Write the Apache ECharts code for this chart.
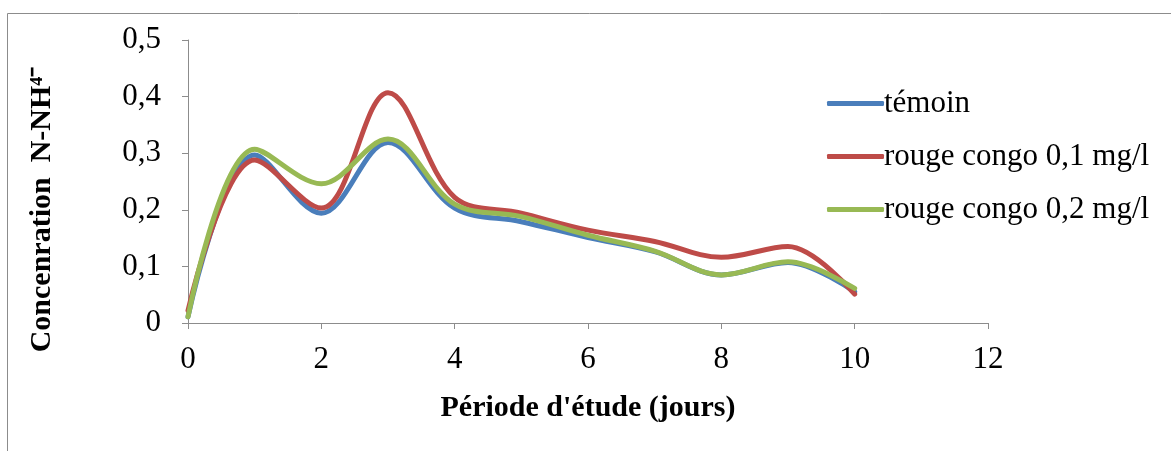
<!DOCTYPE html>
<html>
<head>
<meta charset="utf-8">
<script src="https://cdn.jsdelivr.net/npm/echarts@6/dist/echarts.min.js"></script>
<style>
  html, body { margin: 0; padding: 0; background: #fff; }
  #main { width: 1171px; height: 451px; }
</style>
</head>
<body>
<div id="main"></div>
<script>
// jours d'étude
var days = [0, 1, 2, 3, 4, 5, 6, 7, 8, 9, 10];
var temoin = [0.011, 0.297, 0.194, 0.319, 0.203, 0.179, 0.151, 0.126, 0.085, 0.107, 0.055];
var rouge01 = [0.022, 0.288, 0.203, 0.407, 0.222, 0.194, 0.164, 0.144, 0.116, 0.135, 0.051];
var rouge02 = [0.011, 0.307, 0.246, 0.325, 0.21, 0.188, 0.155, 0.127, 0.085, 0.108, 0.061];
var seriesNames = ['témoin', 'rouge congo 0,1 mg/l', 'rouge congo 0,2 mg/l'];
var colors = ['#4A7EBB', '#BE4B48', '#98B954'];

var font = '"Liberation Serif", "Times New Roman", serif';

function pairs(vals) {
  return days.map(function (d, i) { return [d, vals[i]]; });
}

var myChart = echarts.init(document.getElementById('main'));

var option = {
  animation: false,
  color: colors,
  graphic: [{
    type: 'polyline',
    shape: { points: [[7.5, 451], [7.5, 13.5], [1171, 13.5]] },
    style: { stroke: '#8c8c8c', lineWidth: 1, fill: null }
  }],
  legend: {
    orient: 'vertical',
    left: 822,
    top: 83,
    itemWidth: 57,
    itemHeight: 5,
    itemGap: 22,
    icon: 'roundRect',
    textStyle: { fontFamily: font, fontSize: 31, color: '#000', padding: [0, 0, 0, -5] },
    data: seriesNames
  },
  grid: { left: 188, right: 183, top: 40, bottom: 128 },
  xAxis: {
    type: 'value',
    min: 0, max: 12, interval: 2,
    name: "Période d'étude (jours)",
    nameLocation: 'middle',
    nameGap: 70,
    nameTextStyle: { fontFamily: font, fontSize: 30, fontWeight: 'bold', color: '#000' },
    axisLine: { lineStyle: { color: '#8c8c8c', width: 1 } },
    axisTick: { show: true, length: 6, lineStyle: { color: '#8c8c8c' } },
    axisLabel: { fontFamily: font, fontSize: 31, color: '#000', margin: 21 },
    splitLine: { show: false }
  },
  yAxis: {
    type: 'value',
    min: 0, max: 0.5, interval: 0.1,
    name: 'Concenration  N-NH⁴⁻',
    nameLocation: 'middle',
    nameGap: 131,
    nameRotate: 90,
    nameTextStyle: { fontFamily: font, fontSize: 30, fontWeight: 'bold', color: '#000', padding: [0, 56, 0, 0] },
    axisLine: { show: true, lineStyle: { color: '#8c8c8c', width: 1 } },
    axisTick: { show: true, length: 6, lineStyle: { color: '#8c8c8c' } },
    axisLabel: {
      fontFamily: font, fontSize: 31, color: '#000', margin: 27,
      formatter: function (v) { return String(Math.round(v * 10) / 10).replace('.', ','); }
    },
    splitLine: { show: false }
  },
  series: [
    { name: seriesNames[0], type: 'line', data: pairs(temoin), smooth: 0.35, showSymbol: false, lineStyle: { width: 5, cap: 'round' } },
    { name: seriesNames[1], type: 'line', data: pairs(rouge01), smooth: 0.35, showSymbol: false, lineStyle: { width: 5, cap: 'round' } },
    { name: seriesNames[2], type: 'line', data: pairs(rouge02), smooth: 0.35, showSymbol: false, lineStyle: { width: 5, cap: 'round' } }
  ]
};

myChart.setOption(option);
</script>
</body>
</html>
